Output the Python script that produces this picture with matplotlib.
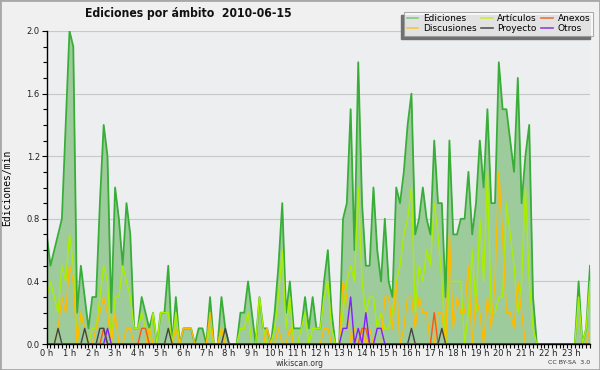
import numpy as np
import matplotlib.pyplot as plt
from matplotlib.lines import Line2D
from matplotlib.patches import Rectangle
from matplotlib.ticker import MultipleLocator

# edits per minute, one value per 10-minute slot (6 per hour)
ediciones = [
    0.7, 0.5, 0.6, 0.7, 0.8, 1.4,   # 0 h
    2.0, 1.9, 0.2, 0.5, 0.3, 0.1,   # 1 h
    0.3, 0.3, 0.9, 1.4, 1.2, 0.2,   # 2 h
    1.0, 0.8, 0.5, 0.9, 0.7, 0.1,   # 3 h
    0.1, 0.3, 0.2, 0.1, 0.2, 0.0,   # 4 h
    0.2, 0.2, 0.5, 0.0, 0.3, 0.0,   # 5 h
    0.1, 0.1, 0.1, 0.0, 0.1, 0.1,   # 6 h
    0.0, 0.3, 0.0, 0.0, 0.3, 0.1,   # 7 h
    0.0, 0.0, 0.0, 0.2, 0.2, 0.4,   # 8 h
    0.2, 0.0, 0.3, 0.1, 0.1, 0.0,   # 9 h
    0.2, 0.5, 0.9, 0.2, 0.4, 0.1,   # 10 h
    0.1, 0.1, 0.3, 0.1, 0.3, 0.1,   # 11 h
    0.1, 0.4, 0.6, 0.2, 0.0, 0.0,   # 12 h
    0.8, 0.9, 1.5, 0.6, 1.8, 0.9,   # 13 h
    0.5, 0.5, 1.0, 0.6, 0.4, 0.8,   # 14 h
    0.4, 0.3, 1.0, 0.9, 1.1, 1.4,   # 15 h
    1.6, 0.7, 0.8, 1.0, 0.8, 0.7,   # 16 h
    1.3, 0.9, 0.9, 0.3, 1.3, 0.7,   # 17 h
    0.7, 0.8, 0.8, 1.1, 0.7, 0.9,   # 18 h
    1.3, 1.0, 1.5, 0.9, 0.9, 1.8,   # 19 h
    1.5, 1.5, 1.3, 1.1, 1.7, 0.9,   # 20 h
    1.2, 1.4, 0.3, 0.0, 0.0, 0.0,   # 21 h
    0.0, 0.0, 0.0, 0.0, 0.0, 0.0,   # 22 h
    0.0, 0.0, 0.4, 0.0, 0.1, 0.5,   # 23 h
]

articulos = [
    0.3, 0.4, 0.3, 0.2, 0.5, 0.4,
    0.7, 0.5, 0.0, 0.2, 0.1, 0.0,
    0.1, 0.1, 0.3, 0.5, 0.4, 0.0,
    0.3, 0.3, 0.5, 0.4, 0.3, 0.1,
    0.1, 0.2, 0.1, 0.0, 0.2, 0.0,
    0.2, 0.2, 0.2, 0.0, 0.2, 0.0,
    0.0, 0.0, 0.0, 0.0, 0.0, 0.0,
    0.0, 0.1, 0.0, 0.0, 0.1, 0.0,
    0.0, 0.0, 0.0, 0.1, 0.1, 0.2,
    0.0, 0.0, 0.3, 0.1, 0.0, 0.0,
    0.1, 0.3, 0.6, 0.1, 0.3, 0.0,
    0.0, 0.1, 0.2, 0.0, 0.1, 0.1,
    0.1, 0.3, 0.4, 0.1, 0.0, 0.0,
    0.2, 0.4, 0.5, 0.4, 1.0, 0.4,
    0.2, 0.3, 0.3, 0.1, 0.2, 0.1,
    0.1, 0.2, 0.4, 0.5, 0.7, 0.8,
    1.0, 0.2, 0.5, 0.4, 0.6, 0.5,
    0.9, 0.7, 0.4, 0.0, 0.4, 0.4,
    0.4, 0.4, 0.0, 0.2, 0.6, 0.2,
    0.8, 0.4, 1.1, 0.2, 0.2, 0.3,
    0.3, 0.9, 0.7, 0.5, 0.2, 0.4,
    1.0, 0.4, 0.1, 0.0, 0.0, 0.0,
    0.0, 0.0, 0.0, 0.0, 0.0, 0.0,
    0.0, 0.0, 0.3, 0.0, 0.1, 0.4,
]

discusiones = [
    0.0, 0.0, 0.0, 0.1, 0.3, 0.2,
    0.5, 0.4, 0.0, 0.2, 0.1, 0.0,
    0.0, 0.1, 0.2, 0.3, 0.2, 0.0,
    0.2, 0.0, 0.0, 0.1, 0.1, 0.0,
    0.0, 0.0, 0.0, 0.1, 0.0, 0.0,
    0.0, 0.0, 0.0, 0.0, 0.1, 0.0,
    0.1, 0.1, 0.1, 0.0, 0.0, 0.0,
    0.0, 0.2, 0.0, 0.0, 0.1, 0.0,
    0.0, 0.0, 0.0, 0.0, 0.0, 0.0,
    0.0, 0.0, 0.0, 0.0, 0.1, 0.0,
    0.0, 0.1, 0.0, 0.0, 0.1, 0.0,
    0.0, 0.0, 0.0, 0.0, 0.0, 0.0,
    0.0, 0.1, 0.1, 0.0, 0.0, 0.0,
    0.4, 0.3, 0.0, 0.1, 0.0, 0.1,
    0.0, 0.1, 0.0, 0.0, 0.0, 0.3,
    0.3, 0.1, 0.4, 0.0, 0.1, 0.3,
    0.3, 0.1, 0.3, 0.2, 0.2, 0.0,
    0.0, 0.2, 0.2, 0.0, 0.7, 0.1,
    0.3, 0.2, 0.2, 0.5, 0.0, 0.3,
    0.2, 0.0, 0.3, 0.1, 0.4, 1.1,
    0.7, 0.2, 0.2, 0.1, 0.4, 0.2,
    0.0, 0.0, 0.0, 0.0, 0.0, 0.0,
    0.0, 0.0, 0.0, 0.0, 0.0, 0.0,
    0.0, 0.0, 0.0, 0.0, 0.0, 0.1,
]

anexos = [0.0] * 144
for i, v in [(15, 0.1), (25, 0.1), (26, 0.1), (83, 0.1), (84, 0.1), (102, 0.2)]:
    anexos[i] = v

proyecto = [0.0] * 144
for i in [3, 10, 14, 15, 32, 47, 96, 104]:
    proyecto[i] = 0.1

otros = [0.0] * 144
for i, v in [(16, 0.1), (78, 0.1), (79, 0.1), (80, 0.3), (82, 0.1), (84, 0.2), (87, 0.1), (88, 0.1)]:
    otros[i] = v

hour_labels = ["%d h" % h for h in range(24)]

x = np.arange(len(ediciones))

fig = plt.figure(figsize=(6, 3.7), dpi=100)
fig.patch.set_facecolor('#F0F0F0')
ax = fig.add_axes([46.7 / 600, 26 / 370, (590 - 46.7) / 600, 313 / 370])
ax.set_facecolor('#ECEEF0')

ax.fill_between(x, ediciones, color='#9ECB9B', lw=0, zorder=2)
ax.plot(x, ediciones, color='#38AE38', lw=1.3, zorder=3)
ax.plot(x, articulos, color='#AAEE00', lw=1.0, zorder=4)
ax.plot(x, discusiones, color='#FFBB00', lw=1.0, zorder=5)
ax.plot(x, anexos, color='#FF5511', lw=1.0, zorder=6)
ax.plot(x, proyecto, color='#444444', lw=1.0, zorder=7)
ax.plot(x, otros, color='#8020FF', lw=1.0, zorder=8)

ax.set_xlim(0, 143)
ax.set_ylim(0, 2.0)
ax.set_xticks(np.arange(0, 144, 6))
ax.set_xticklabels(hour_labels)
ax.xaxis.set_minor_locator(MultipleLocator(1))
ax.set_yticks(np.arange(0, 2.01, 0.4))
ax.set_yticklabels(["%.1f" % v for v in np.arange(0, 2.01, 0.4)])
ax.yaxis.set_minor_locator(MultipleLocator(0.1))
ax.tick_params(which='major', direction='out', length=3.5, width=0.8, labelsize=6,
               labelcolor='#222222', pad=1.5)
ax.tick_params(axis='x', which='major', length=3, pad=0.5)
ax.tick_params(which='minor', direction='out', length=3, width=0.8)
ax.grid(axis='y', which='major', color='#C8C8C8', lw=0.8, zorder=1)
ax.set_axisbelow(True)
for s in ['top', 'right']:
    ax.spines[s].set_visible(False)
for s in ['left', 'bottom']:
    ax.spines[s].set_color('black')
    ax.spines[s].set_linewidth(1.0)
    ax.spines[s].set_zorder(10)

ax.set_ylabel('Ediciones/min', family='DejaVu Sans Mono', fontsize=7, labelpad=10)

fig.text(85 / 600, 1 - 14 / 370, 'Ediciones por ámbito  2010-06-15', ha='left', va='center',
         fontsize=8.7, fontweight='bold', fontstretch='condensed', color='#111111')
fig.text(300 / 600, 1 - 363.5 / 370, 'wikiscan.org', ha='center', va='center', fontsize=5.5,
         color='#333333')
fig.text(590 / 600, 1 - 363 / 370, 'CC BY-SA  3.0', ha='right', va='center', fontsize=4.5,
         color='#333333')

handles = [
    Line2D([], [], color='#7FCB7F', lw=1.2),
    Line2D([], [], color='#F5C842', lw=1.2),
    Line2D([], [], color='#CCEE33', lw=1.2),
    Line2D([], [], color='#555555', lw=1.2),
    Line2D([], [], color='#F07040', lw=1.2),
    Line2D([], [], color='#9040E0', lw=1.2),
]
labels = ['Ediciones', 'Discusiones', 'Artículos', 'Proyecto', 'Anexos', 'Otros']
leg = fig.legend(handles, labels, ncol=3, loc='upper right',
                 bbox_to_anchor=(593 / 600, 1 - 11.7 / 370), bbox_transform=fig.transFigure,
                 fontsize=6.5, frameon=True, fancybox=False, handlelength=1.3,
                 handletextpad=0.5, columnspacing=0.5, labelspacing=0.05,
                 borderpad=0.3, borderaxespad=0)
leg.get_frame().set_facecolor('white')
leg.get_frame().set_edgecolor('#999999')
leg.get_frame().set_linewidth(0.8)
leg.set_zorder(6)

# legend shadow, offset to the lower left
fig.canvas.draw()
bb = leg.get_window_extent().transformed(fig.transFigure.inverted())
fig.patches.append(Rectangle((bb.x0 - 3 / 600, bb.y0 - 3.3 / 370), bb.width, bb.height,
                             transform=fig.transFigure, color='#707070', zorder=5))

fig.patches.append(Rectangle((0, 0), 1, 1, transform=fig.transFigure, fill=False,
                             edgecolor='#A8A8A8', lw=2, zorder=20))

fig.savefig('out.png', dpi=100, facecolor=fig.get_facecolor())
